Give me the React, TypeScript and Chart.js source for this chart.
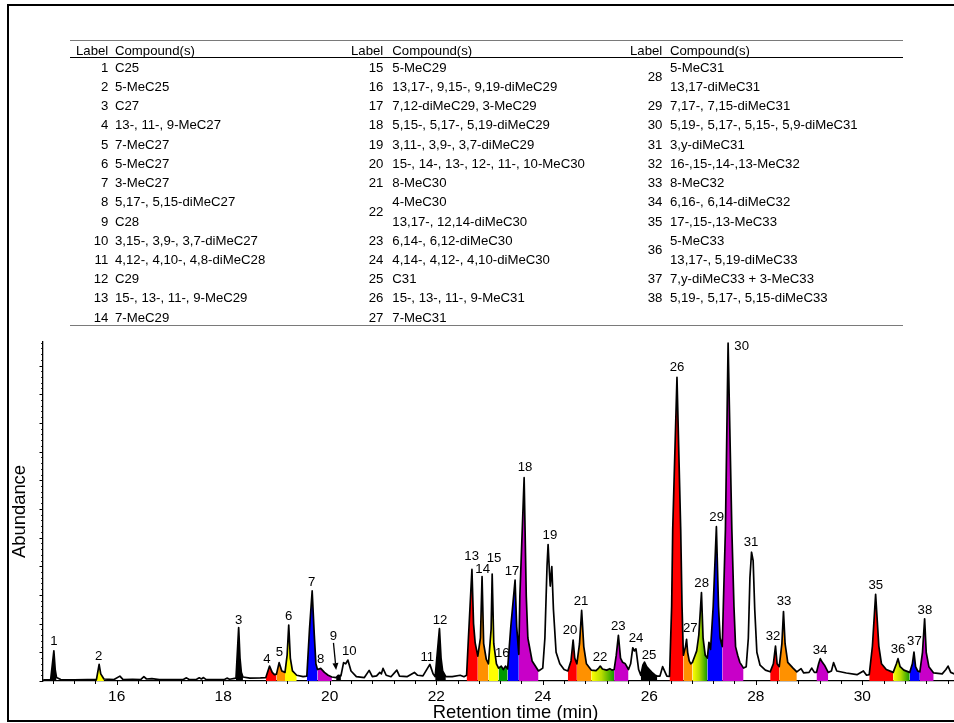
import React, { useEffect, useRef } from "react";
import { Chart, registerables } from "chart.js";

Chart.register(...registerables);

const FONT = 'Arial, "Liberation Sans", sans-serif';

// Chromatogram trace: [retention time (min), abundance]
const trace: [number, number][] = [
  [14.62, 0.04], [14.74, 0.04], [14.76, 0.05], [14.82, 1.05], [14.845, 0.4], [14.87, 0.12], [14.95, 0.05],
  [15.2, 0.04], [15.45, 0.05], [15.62, 0.06], [15.67, 0.58], [15.7, 0.25], [15.76, 0.07], [15.95, 0.05],
  [16.06, 0.17], [16.12, 0.05], [16.3, 0.06], [16.45, 0.05], [16.51, 0.15], [16.56, 0.07], [16.66, 0.08],
  [16.8, 0.05], [17.0, 0.05], [17.25, 0.05], [17.31, 0.11], [17.36, 0.05], [17.5, 0.06], [17.55, 0.11],
  [17.59, 0.07], [17.63, 0.12], [17.68, 0.05], [17.92, 0.05], [18.03, 0.06], [18.07, 0.1], [18.12, 0.06],
  [18.24, 0.1], [18.29, 1.86], [18.315, 0.8], [18.34, 0.3], [18.37, 0.14], [18.5, 0.1], [18.7, 0.11],
  [18.8, 0.12], [18.87, 0.52], [18.92, 0.3], [18.96, 0.22], [19.0, 0.24], [19.05, 0.64], [19.1, 0.35],
  [19.16, 0.3], [19.2, 0.9], [19.23, 1.95], [19.26, 0.8], [19.3, 0.35], [19.38, 0.2], [19.5, 0.15],
  [19.57, 0.17], [19.62, 1.8], [19.67, 3.14], [19.71, 1.6], [19.74, 0.6], [19.77, 0.4], [19.83, 0.44],
  [19.9, 0.3], [19.97, 0.2], [20.04, 0.14], [20.12, 0.12], [20.16, 0.2], [20.21, 0.18], [20.26, 0.64],
  [20.3, 0.6], [20.34, 0.73], [20.4, 0.35], [20.5, 0.15], [20.65, 0.12], [20.74, 0.37], [20.8, 0.15],
  [20.88, 0.18], [20.94, 0.3], [20.97, 0.25], [21.0, 0.44], [21.06, 0.2], [21.15, 0.15], [21.26, 0.38],
  [21.31, 0.17], [21.45, 0.15], [21.59, 0.3], [21.65, 0.2], [21.75, 0.18], [21.88, 0.58], [21.94, 0.25],
  [21.98, 0.15], [22.06, 1.83], [22.09, 0.8], [22.12, 0.35], [22.18, 0.15], [22.3, 0.15], [22.45, 0.2],
  [22.52, 0.15], [22.57, 0.2], [22.6, 1.34], [22.67, 3.89], [22.7, 2.0], [22.73, 1.34], [22.78, 0.87],
  [22.83, 1.5], [22.86, 3.64], [22.89, 1.3], [22.94, 0.75], [22.98, 0.6], [23.03, 1.8], [23.05, 3.73],
  [23.08, 1.3], [23.13, 0.6], [23.17, 0.45], [23.22, 0.52], [23.26, 0.4], [23.3, 0.52], [23.34, 0.42],
  [23.4, 1.9], [23.48, 3.52], [23.51, 1.9], [23.55, 0.93], [23.57, 2.96], [23.65, 7.09], [23.69, 2.96],
  [23.72, 1.5], [23.8, 0.7], [23.92, 0.35], [24.0, 0.45], [24.04, 1.5], [24.08, 4.0], [24.1, 4.76],
  [24.125, 3.8], [24.14, 3.31], [24.17, 3.99], [24.2, 2.5], [24.25, 1.0], [24.32, 0.6], [24.4, 0.4],
  [24.47, 0.35], [24.53, 0.7], [24.57, 1.43], [24.6, 0.8], [24.64, 0.6], [24.69, 1.3], [24.73, 2.46],
  [24.77, 1.2], [24.82, 0.6], [24.91, 0.38], [25.0, 0.36], [25.05, 0.45], [25.08, 0.52], [25.12, 0.42],
  [25.2, 0.38], [25.26, 0.43], [25.3, 0.38], [25.34, 0.4], [25.38, 0.9], [25.42, 1.59], [25.46, 0.8],
  [25.5, 0.65], [25.55, 0.6], [25.61, 0.4], [25.65, 0.6], [25.69, 1.16], [25.72, 1.05], [25.75, 1.12],
  [25.8, 0.4], [25.84, 0.2], [25.88, 0.55], [25.91, 0.66], [25.95, 0.5], [26.0, 0.4], [26.05, 0.3],
  [26.1, 0.22], [26.15, 0.17], [26.2, 0.17], [26.25, 0.5], [26.33, 0.17], [26.38, 0.16], [26.42, 2.6],
  [26.44, 5.28], [26.52, 10.59], [26.59, 5.28], [26.615, 2.6], [26.64, 0.9], [26.68, 1.2], [26.7, 1.45],
  [26.72, 1.0], [26.75, 0.7], [26.78, 0.6], [26.81, 0.65], [26.86, 0.9], [26.89, 1.05], [26.93, 1.6],
  [26.98, 3.08], [27.01, 1.5], [27.05, 0.9], [27.09, 0.8], [27.12, 1.35], [27.15, 1.1], [27.2, 2.6],
  [27.26, 5.38], [27.3, 2.6], [27.33, 1.5], [27.37, 1.2], [27.39, 2.6], [27.43, 5.3], [27.48, 11.78],
  [27.55, 5.3], [27.59, 2.6], [27.62, 1.2], [27.66, 0.9], [27.7, 0.65], [27.77, 0.45], [27.82, 0.5],
  [27.86, 1.5], [27.89, 3.6], [27.92, 4.49], [27.95, 4.2], [27.98, 2.5], [28.02, 1.0], [28.08, 0.55],
  [28.18, 0.38], [28.27, 0.32], [28.33, 0.6], [28.37, 1.22], [28.4, 0.6], [28.44, 0.5], [28.49, 1.3],
  [28.52, 2.42], [28.55, 1.3], [28.6, 0.65], [28.7, 0.45], [28.77, 0.32], [28.85, 0.43], [28.9, 0.28],
  [29.0, 0.3], [29.05, 0.45], [29.1, 0.3], [29.14, 0.3], [29.18, 0.6], [29.21, 0.78], [29.25, 0.65],
  [29.29, 0.55], [29.36, 0.3], [29.42, 0.35], [29.46, 0.64], [29.52, 0.35], [29.7, 0.28], [29.9, 0.22],
  [30.02, 0.35], [30.08, 0.2], [30.13, 0.22], [30.19, 1.22], [30.25, 3.02], [30.31, 1.22], [30.36, 0.6],
  [30.45, 0.4], [30.58, 0.3], [30.64, 0.6], [30.67, 0.78], [30.71, 0.5], [30.78, 0.38], [30.89, 0.3],
  [30.94, 0.6], [30.97, 1.01], [31.0, 0.5], [31.04, 0.35], [31.08, 0.32], [31.13, 1.0], [31.17, 2.17],
  [31.2, 1.0], [31.25, 0.5], [31.34, 0.28], [31.5, 0.25], [31.57, 0.4], [31.61, 0.52], [31.66, 0.3],
  [31.72, 0.25], [31.9, 0.25],
];

// Coloured peak areas
const fillStart = [14.76, 15.62, 18.24, 18.8, 19.0, 19.16, 19.57, 19.77, 20.12, 21.98, 22.57, 22.78, 22.98, 23.17, 23.34, 23.55, 24.47, 24.64, 24.91, 25.34, 25.84, 26.38, 26.64, 26.81, 27.09, 27.37, 28.27, 28.44, 29.14, 30.13, 30.58, 30.89, 31.08];
const fillEnd = [14.87, 15.76, 18.37, 19.0, 19.16, 19.38, 19.77, 20.04, 20.21, 22.18, 22.78, 22.98, 23.17, 23.34, 23.55, 23.92, 24.64, 24.91, 25.34, 25.61, 26.15, 26.64, 26.81, 27.09, 27.37, 27.77, 28.44, 28.77, 29.36, 30.58, 30.89, 31.08, 31.34];
const fillKind = ["black", "yellow", "black", "red", "orange", "yellow", "blue", "purple", "black", "black", "red", "orange", "yellow", "green", "blue", "purple", "red", "orange", "yellowgreen", "purple", "black", "red", "orange", "yellowgreen", "blue", "purple", "red", "orange", "purple", "red", "yellowgreen", "blue", "purple"];

// Peak labels
const peakLabels = ["1","2","3","4","5","6","7","8","9","10","11","12","13","14","15","16","17","18","19","20","21","22","23","24","25","26","27","28","29","30","31","32","33","34","35","36","37","38"];
const labelTime = [14.823, 15.661, 18.291, 18.822, 19.054, 19.23, 19.661, 19.83, 20.067, 20.368, 21.832, 22.07, 22.665, 22.872, 23.085, 23.24, 23.422, 23.666, 24.135, 24.511, 24.718, 25.075, 25.419, 25.751, 25.995, 26.521, 26.771, 26.984, 27.266, 27.735, 27.91, 28.323, 28.529, 29.206, 30.252, 30.671, 30.978, 31.176];
const labelLevel = [1.38, 0.87, 2.13, 0.76, 0.99, 2.27, 3.45, 0.76, 1.57, 1.05, 0.81, 2.12, 4.36, 3.89, 4.26, 0.96, 3.83, 7.44, 5.08, 1.77, 2.79, 0.84, 1.92, 1.48, 0.9, 10.95, 1.82, 3.4, 5.71, 11.67, 4.84, 1.55, 2.76, 1.08, 3.34, 1.1, 1.39, 2.47];

// Arrow pointing at peak 9
const arrowFrom = [20.07, 1.33];
const arrowTo = [20.12, 0.38];

const xTickLabels = [16, 18, 20, 22, 24, 26, 28, 30];
const xMinorStep = 0.4;
const yMajorTicks = [0, 1, 2, 3, 4, 5, 6, 7, 8, 9, 10, 11];
const yMinorStep = 0.2;

// Compound table
const tableCol1: [string, string[]][] = [
  ["1", ["C25"]], ["2", ["5-MeC25"]], ["3", ["C27"]], ["4", ["13-, 11-, 9-MeC27"]], ["5", ["7-MeC27"]],
  ["6", ["5-MeC27"]], ["7", ["3-MeC27"]], ["8", ["5,17-, 5,15-diMeC27"]], ["9", ["C28"]],
  ["10", ["3,15-, 3,9-, 3,7-diMeC27"]], ["11", ["4,12-, 4,10-, 4,8-diMeC28"]], ["12", ["C29"]],
  ["13", ["15-, 13-, 11-, 9-MeC29"]], ["14", ["7-MeC29"]],
];
const tableCol2: [string, string[]][] = [
  ["15", ["5-MeC29"]], ["16", ["13,17-, 9,15-, 9,19-diMeC29"]], ["17", ["7,12-diMeC29, 3-MeC29"]],
  ["18", ["5,15-, 5,17-, 5,19-diMeC29"]], ["19", ["3,11-, 3,9-, 3,7-diMeC29"]],
  ["20", ["15-, 14-, 13-, 12-, 11-, 10-MeC30"]], ["21", ["8-MeC30"]], ["22", ["4-MeC30", "13,17-, 12,14-diMeC30"]],
  ["23", ["6,14-, 6,12-diMeC30"]], ["24", ["4,14-, 4,12-, 4,10-diMeC30"]], ["25", ["C31"]],
  ["26", ["15-, 13-, 11-, 9-MeC31"]], ["27", ["7-MeC31"]],
];
const tableCol3: [string, string[]][] = [
  ["28", ["5-MeC31", "13,17-diMeC31"]], ["29", ["7,17-, 7,15-diMeC31"]], ["30", ["5,19-, 5,17-, 5,15-, 5,9-diMeC31"]],
  ["31", ["3,y-diMeC31"]], ["32", ["16-,15-,14-,13-MeC32"]], ["33", ["8-MeC32"]], ["34", ["6,16-, 6,14-diMeC32"]],
  ["35", ["17-,15-,13-MeC33"]], ["36", ["5-MeC33", "13,17-, 5,19-diMeC33"]], ["37", ["7,y-diMeC33 + 3-MeC33"]],
  ["38", ["5,19-, 5,17-, 5,15-diMeC33"]],
];

const palette: Record<string, string> = {
  black: "#000000",
  red: "#ff0000",
  orange: "#ff9100",
  yellow: "#ffff00",
  green: "#009a00",
  blue: "#0000ff",
  purple: "#c800c8",
};

const overlayPlugin = {
  id: "overlay",
  afterDraw(chart: any) {
    const { ctx, chartArea, scales } = chart;
    const xs = scales.x;
    const ys = scales.y;
    ctx.save();
    ctx.strokeStyle = "#000";
    ctx.lineWidth = 1;
    // y ticks (outside, left)
    const yMax = ys.max;
    const nMinor = Math.floor(yMax / yMinorStep + 1e-6);
    for (let i = 0; i <= nMinor; i++) {
      const v = i * yMinorStep;
      const isMajor = yMajorTicks.some((m) => Math.abs(m - v) < 1e-6);
      const py = Math.round(ys.getPixelForValue(v)) + 0.5;
      const len = isMajor ? 3.5 : 1.8;
      ctx.beginPath();
      ctx.moveTo(chartArea.left - len, py);
      ctx.lineTo(chartArea.left, py);
      ctx.stroke();
    }
    // x ticks (outside, bottom)
    const first = Math.ceil(xs.min / xMinorStep - 1e-6);
    const last = Math.floor(xs.max / xMinorStep + 1e-6);
    for (let i = first; i <= last; i++) {
      const v = i * xMinorStep;
      const isMajor = xTickLabels.some((m) => Math.abs(m - v) < 1e-6);
      const px = Math.round(xs.getPixelForValue(v)) + 0.5;
      const len = isMajor ? 4 : 3;
      ctx.beginPath();
      ctx.moveTo(px, chartArea.bottom);
      ctx.lineTo(px, chartArea.bottom + len);
      ctx.stroke();
    }
    // peak labels
    ctx.fillStyle = "#000";
    ctx.font = `13.2px ${FONT}`;
    ctx.textAlign = "center";
    ctx.textBaseline = "middle";
    peakLabels.forEach((lab, i) => {
      ctx.fillText(lab, xs.getPixelForValue(labelTime[i]), ys.getPixelForValue(labelLevel[i]));
    });
    // arrow
    const x0 = xs.getPixelForValue(arrowFrom[0]);
    const y0 = ys.getPixelForValue(arrowFrom[1]);
    const x1 = xs.getPixelForValue(arrowTo[0]);
    const y1 = ys.getPixelForValue(arrowTo[1]);
    const ang = Math.atan2(y1 - y0, x1 - x0);
    const head = 7;
    const hw = 3;
    const bx = x1 - head * Math.cos(ang);
    const by = y1 - head * Math.sin(ang);
    ctx.lineWidth = 1.3;
    ctx.beginPath();
    ctx.moveTo(x0, y0);
    ctx.lineTo(bx, by);
    ctx.stroke();
    ctx.fillStyle = "#000";
    ctx.beginPath();
    ctx.moveTo(x1, y1);
    ctx.lineTo(bx + hw * Math.sin(ang), by - hw * Math.cos(ang));
    ctx.lineTo(bx - hw * Math.sin(ang), by + hw * Math.cos(ang));
    ctx.closePath();
    ctx.fill();
    ctx.restore();
  },
};

function ChromatogramChart() {
  const ref = useRef<HTMLCanvasElement | null>(null);
  useEffect(() => {
    if (!ref.current) return;
    const points = trace.map(([x, y]) => ({ x, y }));
    const fillSets = fillStart.map((s, i) => {
      const e = fillEnd[i];
      const kind = fillKind[i];
      const bg =
        kind === "yellowgreen"
          ? (c: any) => {
              const chart = c.chart;
              const xs = chart.scales && chart.scales.x;
              if (!xs || !chart.chartArea) return "#c8e000";
              const g = chart.ctx.createLinearGradient(xs.getPixelForValue(s), 0, xs.getPixelForValue(e), 0);
              g.addColorStop(0, "#ffff00");
              g.addColorStop(0.45, "#b8dc00");
              g.addColorStop(1, "#139a00");
              return g;
            }
          : palette[kind];
      return {
        type: "line" as const,
        data: points.filter((p) => p.x >= s - 1e-6 && p.x <= e + 1e-6),
        borderWidth: 0,
        borderColor: "rgba(0,0,0,0)",
        pointRadius: 0,
        fill: "origin",
        backgroundColor: bg,
        order: 1,
        tension: 0,
      };
    });
    const chart = new Chart(ref.current, {
      type: "line",
      data: {
        datasets: [
          {
            data: points,
            borderColor: "#000",
            borderWidth: 1.7,
            pointRadius: 0,
            fill: false,
            order: 0,
            tension: 0,
            borderJoinStyle: "round",
          } as any,
          ...(fillSets as any[]),
        ],
      },
      options: {
        responsive: false,
        animation: false,
        events: [],
        layout: { padding: { top: 342, left: 0, right: 0, bottom: 0 } },
        plugins: {
          legend: { display: false },
          tooltip: { enabled: false },
        },
        scales: {
          x: {
            type: "linear",
            min: 14.616,
            max: 32.36,
            afterFit: (s: any) => {
              s.height = 42;
            },
            afterBuildTicks: (s: any) => {
              s.ticks = xTickLabels.map((v) => ({ value: v }));
            },
            ticks: {
              color: "#000",
              font: { family: FONT, size: 15.5 },
              padding: 6,
              maxRotation: 0,
              autoSkip: false,
            },
            grid: { display: false, drawTicks: false },
            border: { display: true, color: "#000", width: 1.3 },
            title: {
              display: true,
              text: "Retention time (min)",
              color: "#000",
              font: { family: FONT, size: 18.4 },
              padding: { top: 0, bottom: -1 },
            },
          },
          y: {
            type: "linear",
            min: 0,
            max: 11.82,
            afterFit: (s: any) => {
              s.width = 43;
            },
            ticks: { display: false },
            grid: { display: false, drawTicks: false },
            border: { display: true, color: "#000", width: 1.3 },
            title: {
              display: true,
              text: "Abundance",
              color: "#000",
              font: { family: FONT, size: 18.4 },
              padding: { top: 8.5, bottom: 0 },
            },
          },
        },
      },
      plugins: [overlayPlugin],
    });
    return () => chart.destroy();
  }, []);
  return (
    <canvas
      ref={ref}
      width={988}
      height={723}
      style={{ position: "absolute", left: 0, top: 0, width: 988, height: 723 }}
    />
  );
}

const labelRight = [108.3, 383.3, 662.3];
const textLeft = [115, 392.3, 670];
const firstRowY = 67.7;
const rowStep = 19.23;
const headerY = 50.7;

function CompoundTable() {
  const cols = [tableCol1, tableCol2, tableCol3];
  const items: React.ReactNode[] = [];
  const txt: React.CSSProperties = {
    position: "absolute",
    fontFamily: FONT,
    fontSize: 13.2,
    lineHeight: "16px",
    color: "#000",
    whiteSpace: "nowrap",
  };
  cols.forEach((col, ci) => {
    items.push(
      <div key={`hl${ci}`} style={{ ...txt, top: headerY - 8, left: labelRight[ci] - 60, width: 60, textAlign: "right" }}>
        Label
      </div>
    );
    items.push(
      <div key={`hc${ci}`} style={{ ...txt, top: headerY - 8, left: textLeft[ci] }}>
        Compound(s)
      </div>
    );
    let line = 0;
    col.forEach(([lab, lines], ri) => {
      const yc = firstRowY + rowStep * (line + (lines.length - 1) / 2);
      items.push(
        <div key={`l${ci}-${ri}`} style={{ ...txt, top: yc - 8, left: labelRight[ci] - 60, width: 60, textAlign: "right" }}>
          {lab}
        </div>
      );
      lines.forEach((t, li) => {
        items.push(
          <div key={`t${ci}-${ri}-${li}`} style={{ ...txt, top: firstRowY + rowStep * (line + li) - 8, left: textLeft[ci] }}>
            {t}
          </div>
        );
      });
      line += lines.length;
    });
  });
  return (
    <>
      <div style={{ position: "absolute", left: 70, top: 39.5, width: 833, height: 0, borderTop: "1.3px solid #7a7a7a" }} />
      <div style={{ position: "absolute", left: 70, top: 56.5, width: 833, height: 0, borderTop: "1px solid #000" }} />
      <div style={{ position: "absolute", left: 70, top: 325.3, width: 833, height: 0, borderTop: "1.5px solid #7a7a7a" }} />
      {items}
    </>
  );
}

export default function App() {
  return (
    <div
      style={{
        position: "fixed",
        left: 0,
        top: 0,
        width: 954,
        height: 723,
        overflow: "hidden",
        background: "#fff",
      }}
    >
      <ChromatogramChart />
      <CompoundTable />
      <div
        style={{
          position: "absolute",
          left: 7,
          top: 4,
          width: 1010,
          height: 718,
          border: "2px solid #000",
          boxSizing: "border-box",
          pointerEvents: "none",
        }}
      />
    </div>
  );
}
